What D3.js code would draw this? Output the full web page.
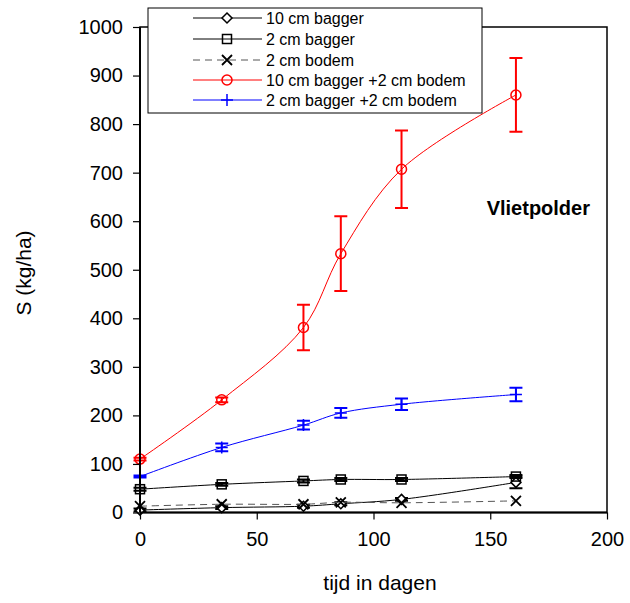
<!DOCTYPE html>
<html><head><meta charset="utf-8">
<script src="https://cdn.jsdelivr.net/npm/d3@7"></script>
<style>body{margin:0;background:#fff}svg{display:block;font-family:"Liberation Sans",Arial,sans-serif}</style>
</head><body>
<script>
const days = [0, 35, 70, 86, 112, 161];
const bagger10 = [5, 10, 13, 18, 27, 62];
const bagger10Err = [3, 3, 3, 3, 3, 12];
const bagger2 = [48, 58, 65, 68, 68, 74];
const bagger2Err = [3, 3, 3, 3, 3, 3];
const bodem2 = [13, 17, 17, 21, 20, 24];
const bagger10bodem2 = [110, 232, 381, 533, 707, 860];
const bagger10bodem2Err = [3, 5, 47, 77, 80, 76];
const bagger2bodem2 = [74, 134, 180, 205, 223, 243];
const bagger2bodem2Err = [2, 8, 9, 10, 12, 14];
const xTicks = [0, 50, 100, 150, 200];
const yTicks = [0, 100, 200, 300, 400, 500, 600, 700, 800, 900, 1000];
const seriesNames = ["10 cm bagger", "2 cm bagger", "2 cm bodem", "10 cm bagger +2 cm bodem", "2 cm bagger +2 cm bodem"];

const W = 630, H = 603;
const x = d3.scaleLinear().domain([0, 200]).range([140, 607]);
const y = d3.scaleLinear().domain([0, 1000]).range([512.5, 27]);

const svg = d3.select("body").append("svg").attr("width", W).attr("height", H);

// plot frame
svg.append("rect").attr("x", x(0)).attr("y", y(1000)).attr("width", x(200) - x(0)).attr("height", y(0) - y(1000))
  .attr("fill", "none").attr("stroke", "#000").attr("stroke-width", 1.5);

const series = [
  {name: seriesNames[0], vals: bagger10, err: bagger10Err, color: "#000", dash: null, marker: "diamond"},
  {name: seriesNames[1], vals: bagger2, err: bagger2Err, color: "#000", dash: null, marker: "square"},
  {name: seriesNames[2], vals: bodem2, err: null, color: "#000", dash: "7,5", lineColor: "#555", marker: "x"},
  {name: seriesNames[3], vals: bagger10bodem2, err: bagger10bodem2Err, color: "#ff0000", dash: null, marker: "circle"},
  {name: seriesNames[4], vals: bagger2bodem2, err: bagger2bodem2Err, color: "#0000ff", dash: null, marker: "plus"}
];

function drawMarker(g, type, cx, cy, color) {
  if (type === "diamond") {
    g.append("path").attr("d", `M${cx},${cy-5}L${cx+5},${cy}L${cx},${cy+5}L${cx-5},${cy}Z`)
      .attr("fill", "#fff").attr("stroke", color).attr("stroke-width", 1.5);
  } else if (type === "square") {
    g.append("rect").attr("x", cx - 4.5).attr("y", cy - 4.5).attr("width", 9).attr("height", 9)
      .attr("fill", "none").attr("stroke", color).attr("stroke-width", 1.5);
  } else if (type === "x") {
    g.append("path").attr("d", `M${cx-5},${cy-5}L${cx+5},${cy+5}M${cx-5},${cy+5}L${cx+5},${cy-5}`)
      .attr("stroke", color).attr("stroke-width", 1.8);
  } else if (type === "circle") {
    g.append("circle").attr("cx", cx).attr("cy", cy).attr("r", 5)
      .attr("fill", "none").attr("stroke", color).attr("stroke-width", 1.5);
  } else if (type === "plus") {
    g.append("path").attr("d", `M${cx-6},${cy}L${cx+6},${cy}M${cx},${cy-6}L${cx},${cy+6}`)
      .attr("stroke", color).attr("stroke-width", 1.5);
  }
}

const line = d3.line().x((d, i) => x(days[i])).y(d => y(d)).curve(d3.curveCatmullRom.alpha(0.5));

series.forEach(s => {
  const g = svg.append("g");
  g.append("path").datum(s.vals).attr("d", line).attr("fill", "none")
    .attr("stroke", s.lineColor || s.color).attr("stroke-width", 1)
    .attr("stroke-dasharray", s.dash);
  if (s.err) {
    s.vals.forEach((v, i) => {
      const cx = x(days[i]), y1 = y(v + s.err[i]), y2 = y(v - s.err[i]);
      const cw = 6.5;
      g.append("path").attr("d", `M${cx},${y1}L${cx},${y2}M${cx-cw},${y1}L${cx+cw},${y1}M${cx-cw},${y2}L${cx+cw},${y2}`)
        .attr("stroke", s.color).attr("stroke-width", 2).attr("fill", "none");
    });
  }
  s.vals.forEach((v, i) => drawMarker(g, s.marker, x(days[i]), y(v), s.color));
});

// axes
const yAxis = d3.axisLeft(y).tickValues(yTicks).tickSize(7).tickPadding(10).tickFormat(d3.format("d"));
const gy = svg.append("g").attr("transform", `translate(${x(0)},0)`).call(yAxis);
gy.select(".domain").attr("stroke-width", 2).attr("d", `M0,${y(1000)}V${y(0)}`);
gy.selectAll("text").attr("font-size", 20).attr("fill", "#000").attr("font-family", '"Liberation Sans",Arial,sans-serif');
gy.selectAll("line").attr("stroke-width", 1.2);

const xAxis = d3.axisBottom(x).tickValues(xTicks).tickSize(7).tickPadding(12).tickFormat(d3.format("d"));
const gx = svg.append("g").attr("transform", `translate(0,${y(0)})`).call(xAxis);
gx.select(".domain").attr("stroke-width", 2).attr("d", `M${x(0)},0H${x(200)}`);
gx.selectAll("text").attr("font-size", 20).attr("fill", "#000").attr("font-family", '"Liberation Sans",Arial,sans-serif');
gx.selectAll("line").attr("stroke-width", 1.2);

svg.append("text").attr("x", 380).attr("y", 590).attr("text-anchor", "middle").attr("font-size", 21).text("tijd in dagen");
svg.append("text").attr("transform", "translate(31,273) rotate(-90)").attr("text-anchor", "middle").attr("font-size", 21).text("S (kg/ha)");

svg.append("text").attr("x", 590).attr("y", 215).attr("text-anchor", "end").attr("font-size", 20).attr("font-weight", "bold").text("Vlietpolder");

// legend
const lg = svg.append("g");
lg.append("rect").attr("x", 148).attr("y", 8).attr("width", 334).attr("height", 105)
  .attr("fill", "#fff").attr("stroke", "#000").attr("stroke-width", 1);
const rowY = [18, 39, 60, 80, 100];
series.forEach((s, i) => {
  const ry = rowY[i];
  lg.append("line").attr("x1", 193).attr("x2", 262).attr("y1", ry).attr("y2", ry)
    .attr("stroke", s.lineColor || s.color).attr("stroke-width", 1).attr("stroke-dasharray", s.dash);
  drawMarker(lg, s.marker, 227, ry, s.color);
  lg.append("text").attr("x", 266).attr("y", ry + 5.5).attr("font-size", 16).text(s.name);
});
</script>
</body></html>
